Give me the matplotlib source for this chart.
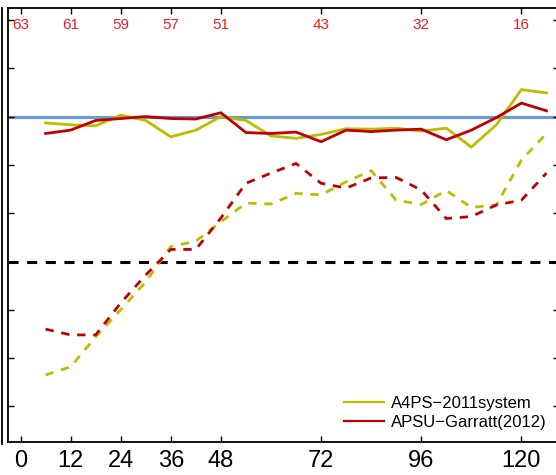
import matplotlib.pyplot as plt
from matplotlib.lines import Line2D
import matplotlib.transforms as mtransforms

plt.rcParams['font.family'] = ['Liberation Sans', 'DejaVu Sans']

# forecast lead time (hours)
lead = [6, 12, 18, 24, 30, 36, 42, 48, 54, 60, 66, 72, 78, 84, 90, 96, 102, 108, 114, 120, 126]

a4ps_solid = [0.987, 0.983, 0.981, 1.003, 0.992, 0.958, 0.972, 1.000, 0.992, 0.960, 0.955,
              0.963, 0.975, 0.974, 0.976, 0.970, 0.976, 0.937, 0.983, 1.056, 1.049]
apsu_solid = [0.965, 0.972, 0.992, 0.996, 1.000, 0.996, 0.995, 1.008, 0.967, 0.965, 0.968,
              0.948, 0.972, 0.969, 0.972, 0.974, 0.952, 0.972, 0.998, 1.028, 1.012]
a4ps_dash = [0.465, 0.482, 0.544, 0.600, 0.658, 0.731, 0.742, 0.782, 0.821, 0.819, 0.841,
             0.838, 0.865, 0.888, 0.827, 0.818, 0.847, 0.812, 0.817, 0.910, 0.965]
apsu_dash = [0.560, 0.548, 0.548, 0.614, 0.672, 0.725, 0.725, 0.790, 0.862, 0.883, 0.903,
             0.862, 0.852, 0.873, 0.874, 0.848, 0.789, 0.793, 0.817, 0.827, 0.883]

xticks = [0, 12, 24, 36, 48, 72, 96, 120]
top_counts = [63, 61, 59, 57, 51, 43, 32, 16]
yticks = [1.2, 1.1, 1.0, 0.9, 0.8, 0.7, 0.6, 0.5, 0.4]

yellow = '#bdbd00'
red = '#c00000'
blue = '#6b9bd1'

fig = plt.figure(figsize=(5.56, 4.75), dpi=100)
ax = fig.add_axes([8 / 556, 33 / 475, 551 / 556, 434 / 475])

ax.axhline(1.0, color=blue, lw=2.3, zorder=1)
ax.axhline(0.7, color='black', lw=2.2, ls=(0, (3.3, 2.8)), zorder=1)

ax.plot(lead, a4ps_solid, color=yellow, lw=2.0, label='A4PS\u22122011system')
ax.plot(lead, apsu_solid, color=red, lw=2.0, label='APSU\u2212Garratt(2012)')
ax.plot(lead, a4ps_dash, color=yellow, lw=2.0, ls=(0, (3.0, 2.8)))
ax.plot(lead, apsu_dash, color=red, lw=2.0, ls=(0, (3.0, 2.8)))

ax.set_xlim(-3, 129)
ax.set_ylim(1.2 - (442 - 20) / 483, 1.2 + 12 / 483)
ax.set_xticks(xticks)
ax.set_yticks(yticks)
ax.tick_params(direction='in', length=4, width=1, top=True, right=True,
               labelleft=False, labelsize=17, pad=6)
for s in ax.spines.values():
    s.set_linewidth(1.3)

trans = mtransforms.blended_transform_factory(ax.transData, ax.transAxes)
for x, n in zip(xticks, top_counts):
    ax.text(x, 0.96, str(n), transform=trans, ha='center', va='center',
            color='#ee1c24', fontsize=11)

leg = ax.legend(loc='lower right', bbox_to_anchor=(0.995, 0.005), frameon=False,
                fontsize=12, handlelength=2.4, handletextpad=0.4, labelspacing=0.25,
                borderaxespad=0.2)
for h in leg.get_lines():
    h.set_linewidth(1.6)

# edge of the neighbouring panel on the left
fig.add_artist(Line2D([2 / 556, 2 / 556], [31 / 475, 467 / 475], color='black', lw=1.3))

fig.savefig('out.png', dpi=100)
